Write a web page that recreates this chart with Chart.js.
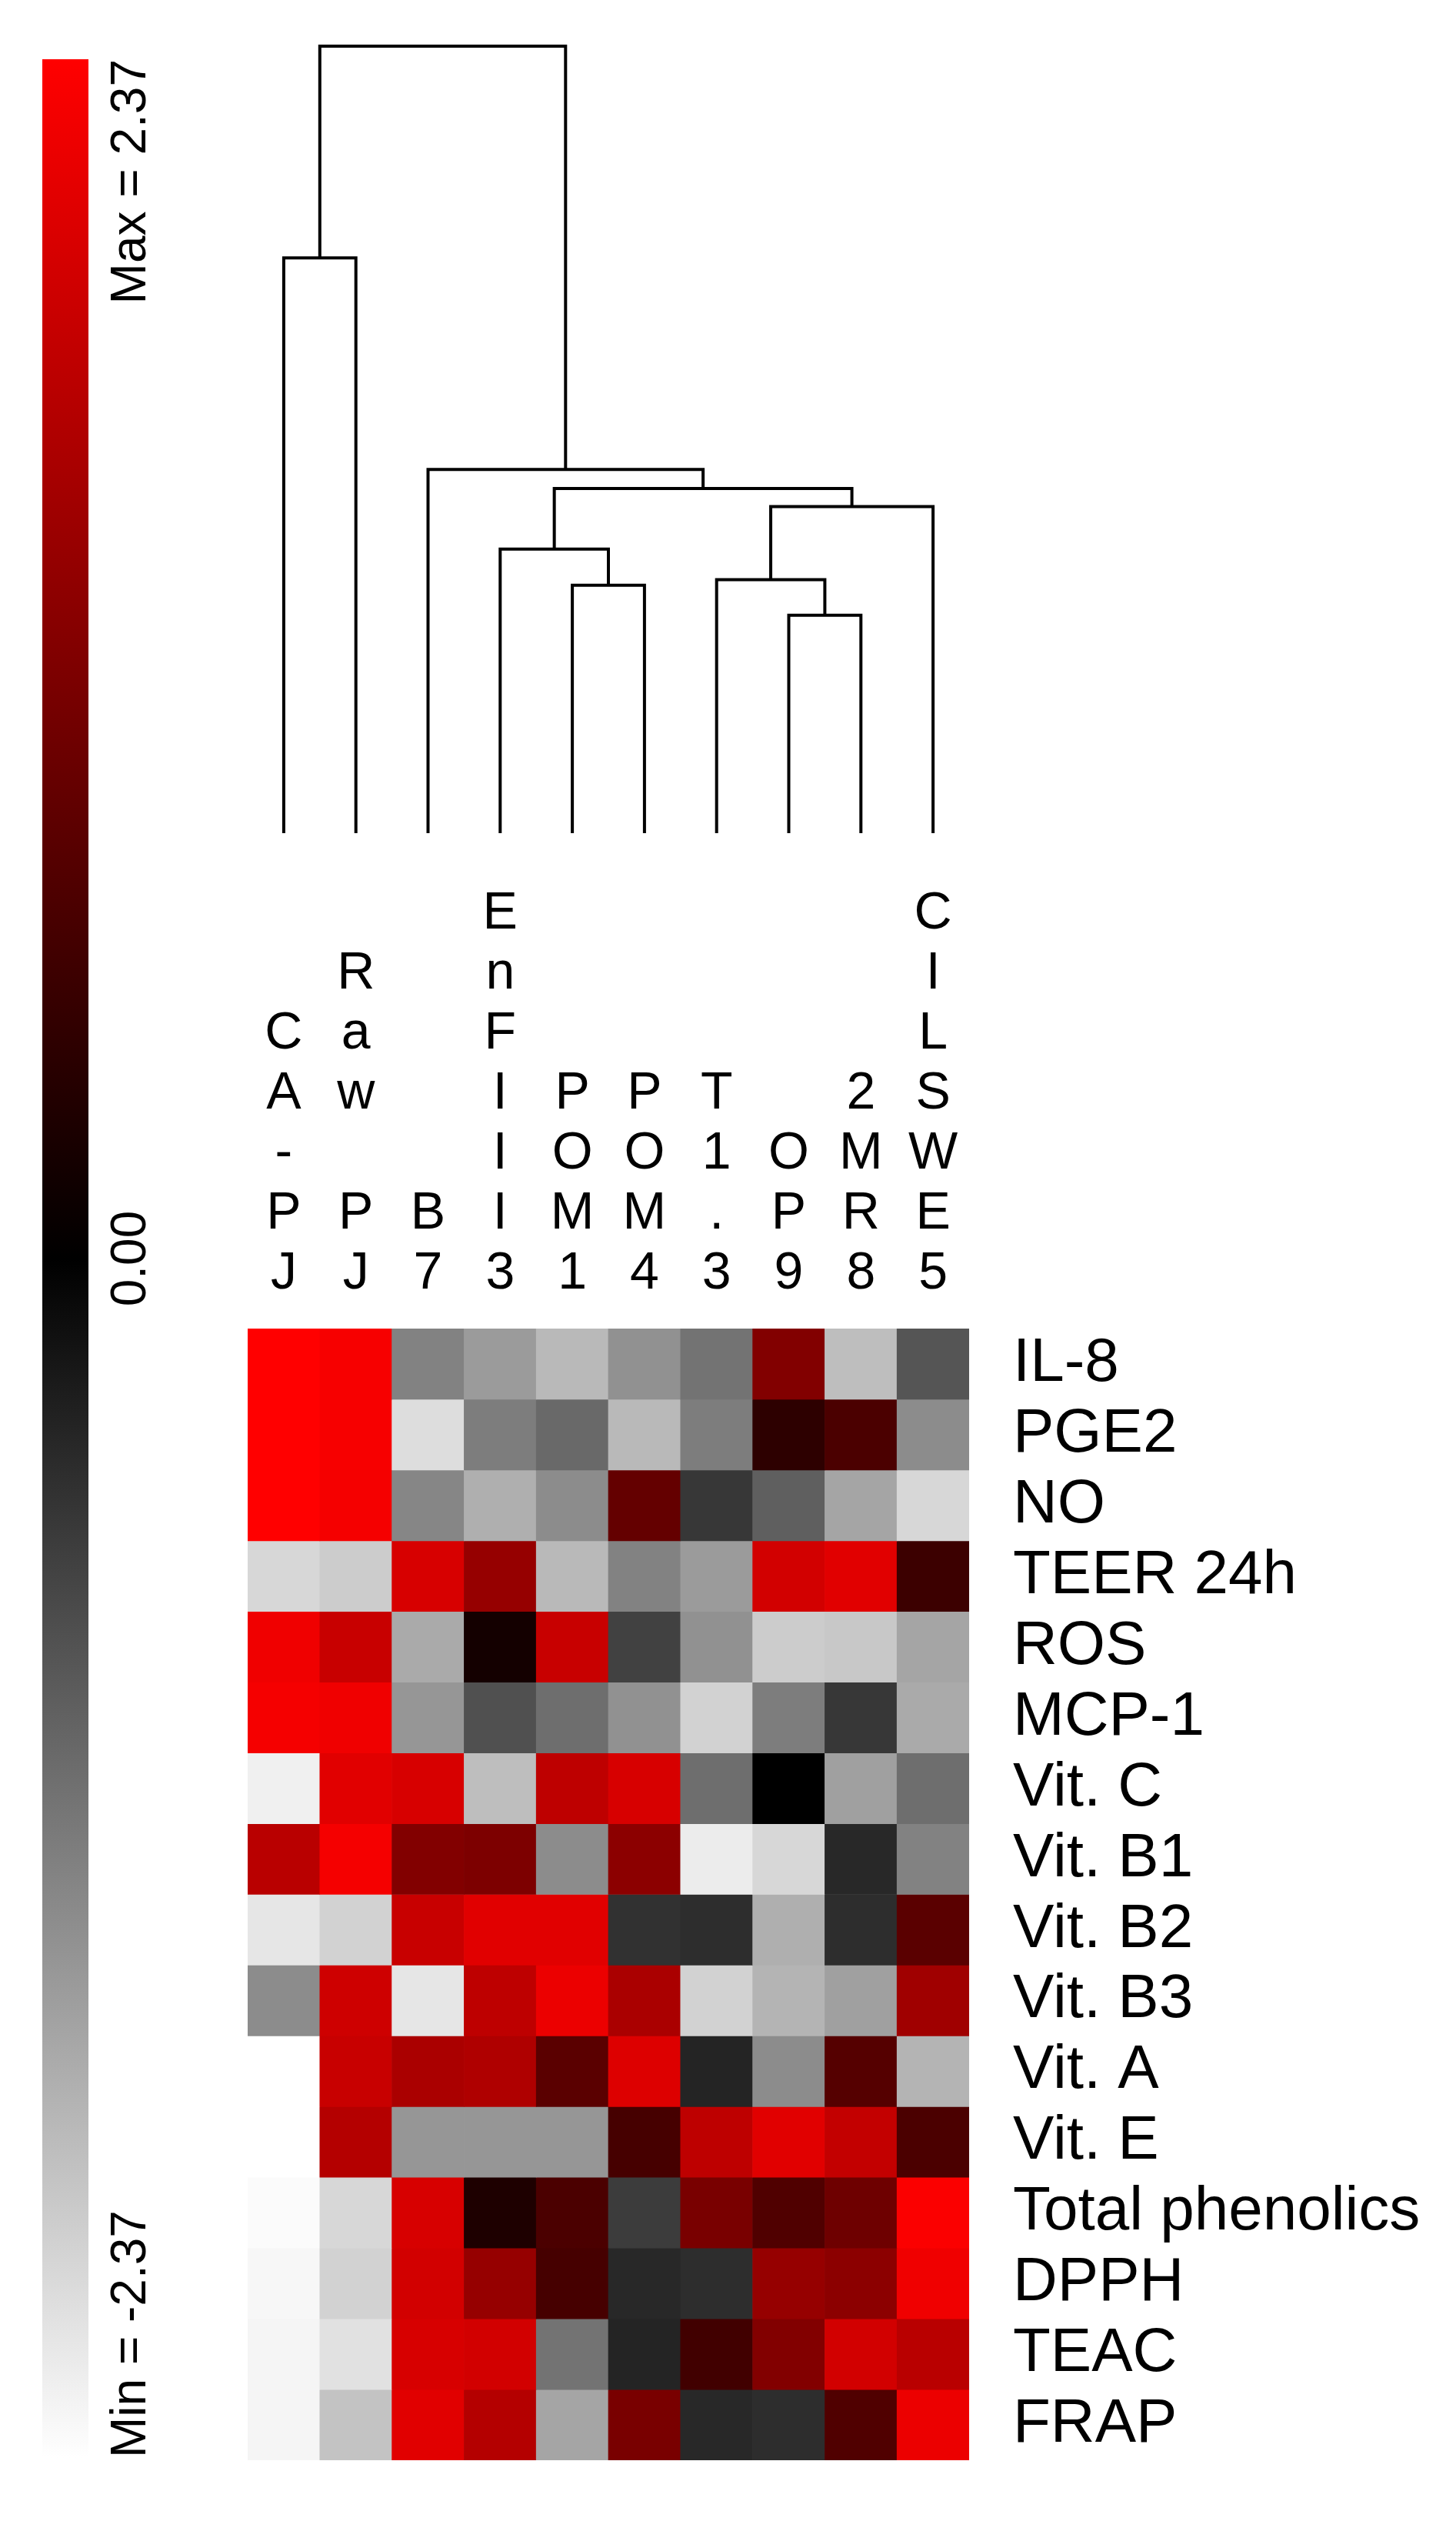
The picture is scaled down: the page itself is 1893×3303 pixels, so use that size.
<!DOCTYPE html>
<html lang="en">
<head>
    <meta charset="UTF-8">
    <title>Clustered heatmap</title>
    <script src="https://cdn.jsdelivr.net/npm/chart.js"></script>
    <style>
        body {
            margin: 0;
            background-color: #fff;
        }

        .page {
            position: relative;
            width: 1893px;
            height: 3303px;
        }

        canvas {
            position: absolute;
            left: 0;
        }

        #treeChart { top: 0; }
        #heatChart { top: 1100px; }
        #scaleChart { top: 0; }
    </style>
</head>
<body>
    <div class="page">
        <canvas id="treeChart" width="1893" height="1100"></canvas>
        <canvas id="heatChart" width="1893" height="2203"></canvas>
        <canvas id="scaleChart" width="240" height="3303"></canvas>
    </div>
    <script>
        // columns (samples) and rows (variables)
        const colLabels = ['CA-PJ', 'Raw PJ', 'B7', 'EnFIII3', 'POM1', 'POM4', 'T1.3', 'OP9', '2MR8', 'CILSWE5'];
        const rowLabels = ['IL-8', 'PGE2', 'NO', 'TEER 24h', 'ROS', 'MCP-1', 'Vit. C', 'Vit. B1', 'Vit. B2',
            'Vit. B3', 'Vit. A', 'Vit. E', 'Total phenolics', 'DPPH', 'TEAC', 'FRAP'];

        // standardised values, one array per row, in column order
        const il8     = [2.37, 2.30, -1.21, -1.44, -1.72, -1.35, -1.07, 1.21, -1.77, -0.79];
        const pge2    = [2.37, 2.30, -2.05, -1.16, -0.98, -1.72, -1.16, 0.42, 0.70, -1.30];
        const no      = [2.37, 2.28, -1.25, -1.63, -1.30, 0.93, -0.51, -0.88, -1.53, -2.00];
        const teer24h = [-2.00, -1.90, 2.00, 1.39, -1.72, -1.21, -1.44, 1.95, 2.09, 0.56];
        const ros     = [2.23, 1.86, -1.58, 0.19, 1.86, -0.60, -1.35, -1.90, -1.86, -1.53];
        const mcp1    = [2.28, 2.23, -1.39, -0.74, -1.02, -1.35, -1.95, -1.16, -0.51, -1.58];
        const vitC    = [-2.23, 2.09, 2.00, -1.77, 1.77, 2.00, -1.02, 0.00, -1.49, -1.02];
        const vitB1   = [1.72, 2.28, 1.21, 1.16, -1.30, 1.30, -2.19, -2.00, -0.37, -1.21];
        const vitB2   = [-2.14, -1.95, 1.86, 2.09, 2.09, -0.46, -0.42, -1.63, -0.42, 0.84];
        const vitB3   = [-1.30, 1.91, -2.14, 1.77, 2.19, 1.58, -1.95, -1.67, -1.49, 1.49];
        const vitA    = [-2.37, 1.86, 1.58, 1.63, 0.84, 2.05, -0.33, -1.30, 0.79, -1.67];
        const vitE    = [-2.37, 1.67, -1.39, -1.39, -1.39, 0.65, 1.77, 2.09, 1.81, 0.70];
        const phenol  = [-2.33, -2.00, 2.00, 0.28, 0.70, -0.56, 1.12, 0.74, 1.02, 2.33];
        const dpph    = [-2.30, -1.95, 1.95, 1.39, 0.65, -0.37, -0.42, 1.39, 1.30, 2.23];
        const teac    = [-2.28, -2.09, 2.00, 1.95, -1.07, -0.33, 0.60, 1.21, 1.95, 1.72];
        const frap    = [-2.28, -1.81, 2.09, 1.67, -1.53, 1.12, -0.37, -0.42, 0.74, 2.19];
        const cellValues = [il8, pge2, no, teer24h, ros, mcp1, vitC, vitB1, vitB2, vitB3, vitA, vitE,
            phenol, dpph, teac, frap];

        // colour scale
        const scaleMin = -2.37;
        const scaleMax = 2.37;
        const scaleTicks = [scaleMax, 0, scaleMin];
        const scaleTickText = ['Max = 2.37', '0.00', 'Min = -2.37'];

        // column dendrogram: leaves are 1..10, merged nodes get ids 11, 12, ...
        // [child a, child b, merge height]
        const merges = [
            [8, 9, 0.277],
            [5, 6, 0.315],
            [7, 11, 0.322],
            [4, 12, 0.361],
            [13, 10, 0.415],
            [14, 15, 0.438],
            [3, 16, 0.462],
            [1, 2, 0.731],
            [18, 17, 1.0]
        ];

        const FONT = 'Liberation Sans';
        Chart.defaults.color = '#000';

        function cellColor(v) {
            const t = Math.max(-1, Math.min(1, v / scaleMax));
            if (t >= 0) {
                return 'rgb(' + Math.round(255 * t) + ',0,0)';
            }
            const g = Math.round(-255 * t);
            return 'rgb(' + g + ',' + g + ',' + g + ')';
        }

        // dendrogram
        const nodeX = [];
        const nodeH = [];
        for (let i = 1; i <= colLabels.length; i++) {
            nodeX[i] = i;
            nodeH[i] = 0;
        }
        const treeDatasets = merges.map(function(m, k) {
            const id = colLabels.length + 1 + k;
            const a = m[0], b = m[1], h = m[2];
            nodeX[id] = (nodeX[a] + nodeX[b]) / 2;
            nodeH[id] = h;
            return {
                data: [
                    { x: nodeX[a], y: nodeH[a] },
                    { x: nodeX[a], y: h },
                    { x: nodeX[b], y: h },
                    { x: nodeX[b], y: nodeH[b] }
                ],
                showLine: true,
                borderColor: '#000',
                borderWidth: 4,
                pointRadius: 0,
                clip: false
            };
        });

        new Chart(document.getElementById('treeChart'), {
            type: 'scatter',
            data: { datasets: treeDatasets },
            options: {
                responsive: false,
                animation: false,
                devicePixelRatio: 1,
                layout: { padding: { left: 322, right: 633, top: 60, bottom: 17 } },
                plugins: { legend: { display: false }, tooltip: { enabled: false } },
                scales: {
                    x: { type: 'linear', display: false, min: 0.5, max: colLabels.length + 0.5 },
                    y: { display: false, min: 0, max: 1 }
                }
            }
        });

        // heatmap: one stacked dataset per row, each cell is one unit tall
        const heatDatasets = rowLabels.map(function(name, i) {
            return {
                label: name,
                data: colLabels.map(() => 1),
                backgroundColor: cellValues[i].map(cellColor),
                borderWidth: 0,
                barPercentage: 1,
                categoryPercentage: 1
            };
        });

        new Chart(document.getElementById('heatChart'), {
            type: 'bar',
            data: {
                labels: colLabels.map(s => s.split('')),
                datasets: heatDatasets
            },
            options: {
                responsive: false,
                animation: false,
                devicePixelRatio: 1,
                layout: { padding: { left: 322, right: 0, top: 0, bottom: 66 } },
                plugins: { legend: { display: false }, tooltip: { enabled: false } },
                scales: {
                    x: {
                        position: 'top',
                        stacked: true,
                        grid: { display: false, drawTicks: false },
                        border: { display: false },
                        ticks: {
                            color: '#000',
                            font: { family: FONT, size: 68, lineHeight: 78 / 68 },
                            padding: 32,
                            autoSkip: false,
                            maxRotation: 0,
                            minRotation: 0
                        },
                        afterFit: function(scale) { scale.height = 627; }
                    },
                    y: { display: false, stacked: true, min: 0, max: rowLabels.length, reverse: true },
                    rows: {
                        type: 'category',
                        labels: rowLabels,
                        position: 'right',
                        offset: true,
                        grid: { display: false, drawTicks: false },
                        border: { display: false },
                        ticks: {
                            color: '#000',
                            font: { family: FONT, size: 80 },
                            padding: 57,
                            autoSkip: false
                        },
                        afterFit: function(scale) { scale.width = 633; }
                    }
                }
            }
        });

        // colour key on the left
        function scaleGradient(context) {
            const chart = context.chart;
            if (!chart.chartArea) {
                return '#000';
            }
            const y = chart.scales.y;
            const g = chart.ctx.createLinearGradient(0, y.getPixelForValue(scaleMin), 0, y.getPixelForValue(scaleMax));
            g.addColorStop(0, cellColor(scaleMin));
            g.addColorStop(0.5, cellColor(0));
            g.addColorStop(1, cellColor(scaleMax));
            return g;
        }

        const scaleLabels = {
            id: 'scaleLabels',
            afterDatasetsDraw(chart) {
                const ctx = chart.ctx;
                const y = chart.scales.y;
                const x = chart.chartArea.right + 56;
                ctx.save();
                ctx.fillStyle = '#000';
                ctx.font = '64px "' + FONT + '"';
                ctx.textBaseline = 'middle';
                scaleTicks.forEach(function(v, i) {
                    ctx.save();
                    ctx.translate(x, y.getPixelForValue(v));
                    ctx.rotate(-Math.PI / 2);
                    ctx.textAlign = v === scaleMax ? 'right' : (v === scaleMin ? 'left' : 'center');
                    ctx.fillText(scaleTickText[i], 0, 0);
                    ctx.restore();
                });
                ctx.restore();
            }
        };

        new Chart(document.getElementById('scaleChart'), {
            type: 'bar',
            data: {
                labels: [''],
                datasets: [{
                    data: [[scaleMin, scaleMax]],
                    backgroundColor: scaleGradient,
                    borderWidth: 0,
                    barPercentage: 1,
                    categoryPercentage: 1
                }]
            },
            options: {
                responsive: false,
                animation: false,
                devicePixelRatio: 1,
                layout: { padding: { left: 55, right: 125, top: 77, bottom: 108 } },
                plugins: { legend: { display: false }, tooltip: { enabled: false } },
                scales: {
                    x: { display: false },
                    y: { display: false, min: scaleMin, max: scaleMax }
                }
            },
            plugins: [scaleLabels]
        });
    </script>
</body>
</html>
